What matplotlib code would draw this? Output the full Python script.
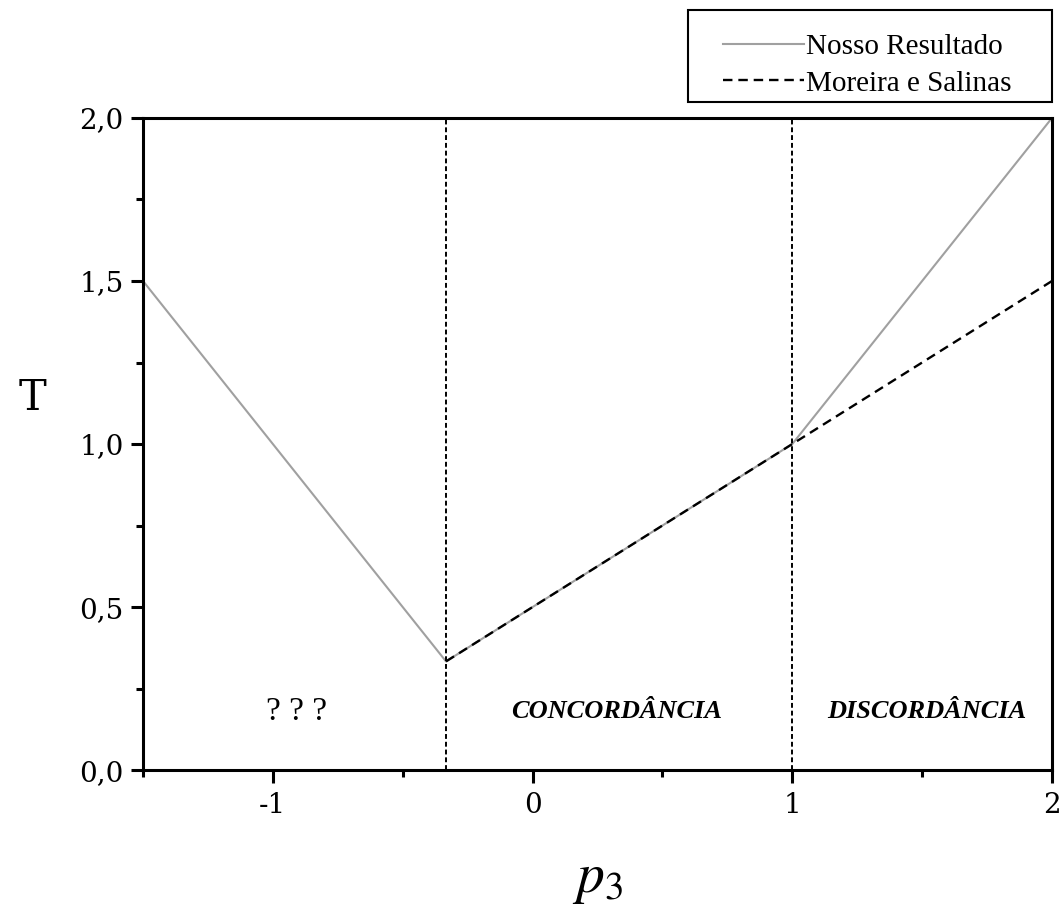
import matplotlib
matplotlib.use("Agg")
import matplotlib.pyplot as plt
from matplotlib.patches import Rectangle
from matplotlib.ticker import MultipleLocator

plt.rcParams["mathtext.fontset"] = "stix"

# Phase-boundary curves T(p3)
p3_ours = [-1.5, -1/3, 1.0, 2.0]
T_ours = [1.5, 1/3, 1.0, 2.0]
p3_ms = [-1/3, 1.0, 2.0]
T_ms = [1/3, 1.0, 1.5]
boundaries = [-1/3, 1.0]

xticks = [-1, 0, 1, 2]
xticklabels = ["-1", "0", "1", "2"]
yticks = [0.0, 0.5, 1.0, 1.5, 2.0]
yticklabels = ["0,0", "0,5", "1,0", "1,5", "2,0"]

regions = [(-0.91, 0.18, "? ? ?", "normal", "normal", 24),
           (0.323, 0.18, "CONCORDÂNCIA", "italic", "bold", 19),
           (1.519, 0.18, "DISCORDÂNCIA", "italic", "bold", 19)]

fig = plt.figure(figsize=(10.61, 9.06), dpi=100)
ax = fig.add_axes([0.1348, 0.150, 0.8567, 0.7198])

l1, = ax.plot(p3_ours, T_ours, color="#a0a0a0", lw=1.5, label="Nosso Resultado")
l2, = ax.plot(p3_ms, T_ms, color="black", lw=1.7, ls=(0, (4, 2.5)), label="Moreira e Salinas")
for b in boundaries:
    ax.axvline(b, color="black", lw=1.4, ls=(0, (2.5, 1.5)))

ax.set_xlim(-1.5, 2.0)
ax.set_ylim(0.0, 2.0)
ax.set_xticks(xticks)
ax.set_xticklabels(xticklabels)
ax.set_yticks(yticks)
ax.set_yticklabels(yticklabels)
ax.xaxis.set_minor_locator(MultipleLocator(0.5))
ax.yaxis.set_minor_locator(MultipleLocator(0.25))
ax.tick_params(which="major", direction="out", length=9, width=2.2, labelsize=20, pad=5)
ax.tick_params(which="minor", direction="out", length=5, width=2.2)
ax.tick_params(axis="x", which="major", pad=7)
for lab in ax.get_xticklabels() + ax.get_yticklabels():
    lab.set_family("DejaVu Serif")
for s in ax.spines.values():
    s.set_linewidth(2.2)

for x, y, txt, style, weight, size in regions:
    ax.text(x, y, txt, ha="center", va="center", fontsize=size,
            family="Liberation Serif", style=style, weight=weight)

fig.text(0.031, 0.561, "T", fontsize=30, family="DejaVu Serif", ha="center", va="center")
fig.text(0.563, 0.030, "$p_3$", fontsize=40, ha="center", va="center")

# legend box drawn as a figure patch, entries placed inside it
fig.patches.append(Rectangle((0.6484, 0.8874), 0.3431, 0.1015, transform=fig.transFigure,
                             fill=False, edgecolor="black", lw=1.5))
fig.legend(handles=[l1, l2], loc="upper left", bbox_to_anchor=(0.681, 0.963),
           prop={"family": "Liberation Serif", "size": 21}, frameon=False,
           handlelength=2.8, handletextpad=0.05, borderpad=0, labelspacing=0.35,
           borderaxespad=0)

fig.savefig("out.png", dpi=100)
